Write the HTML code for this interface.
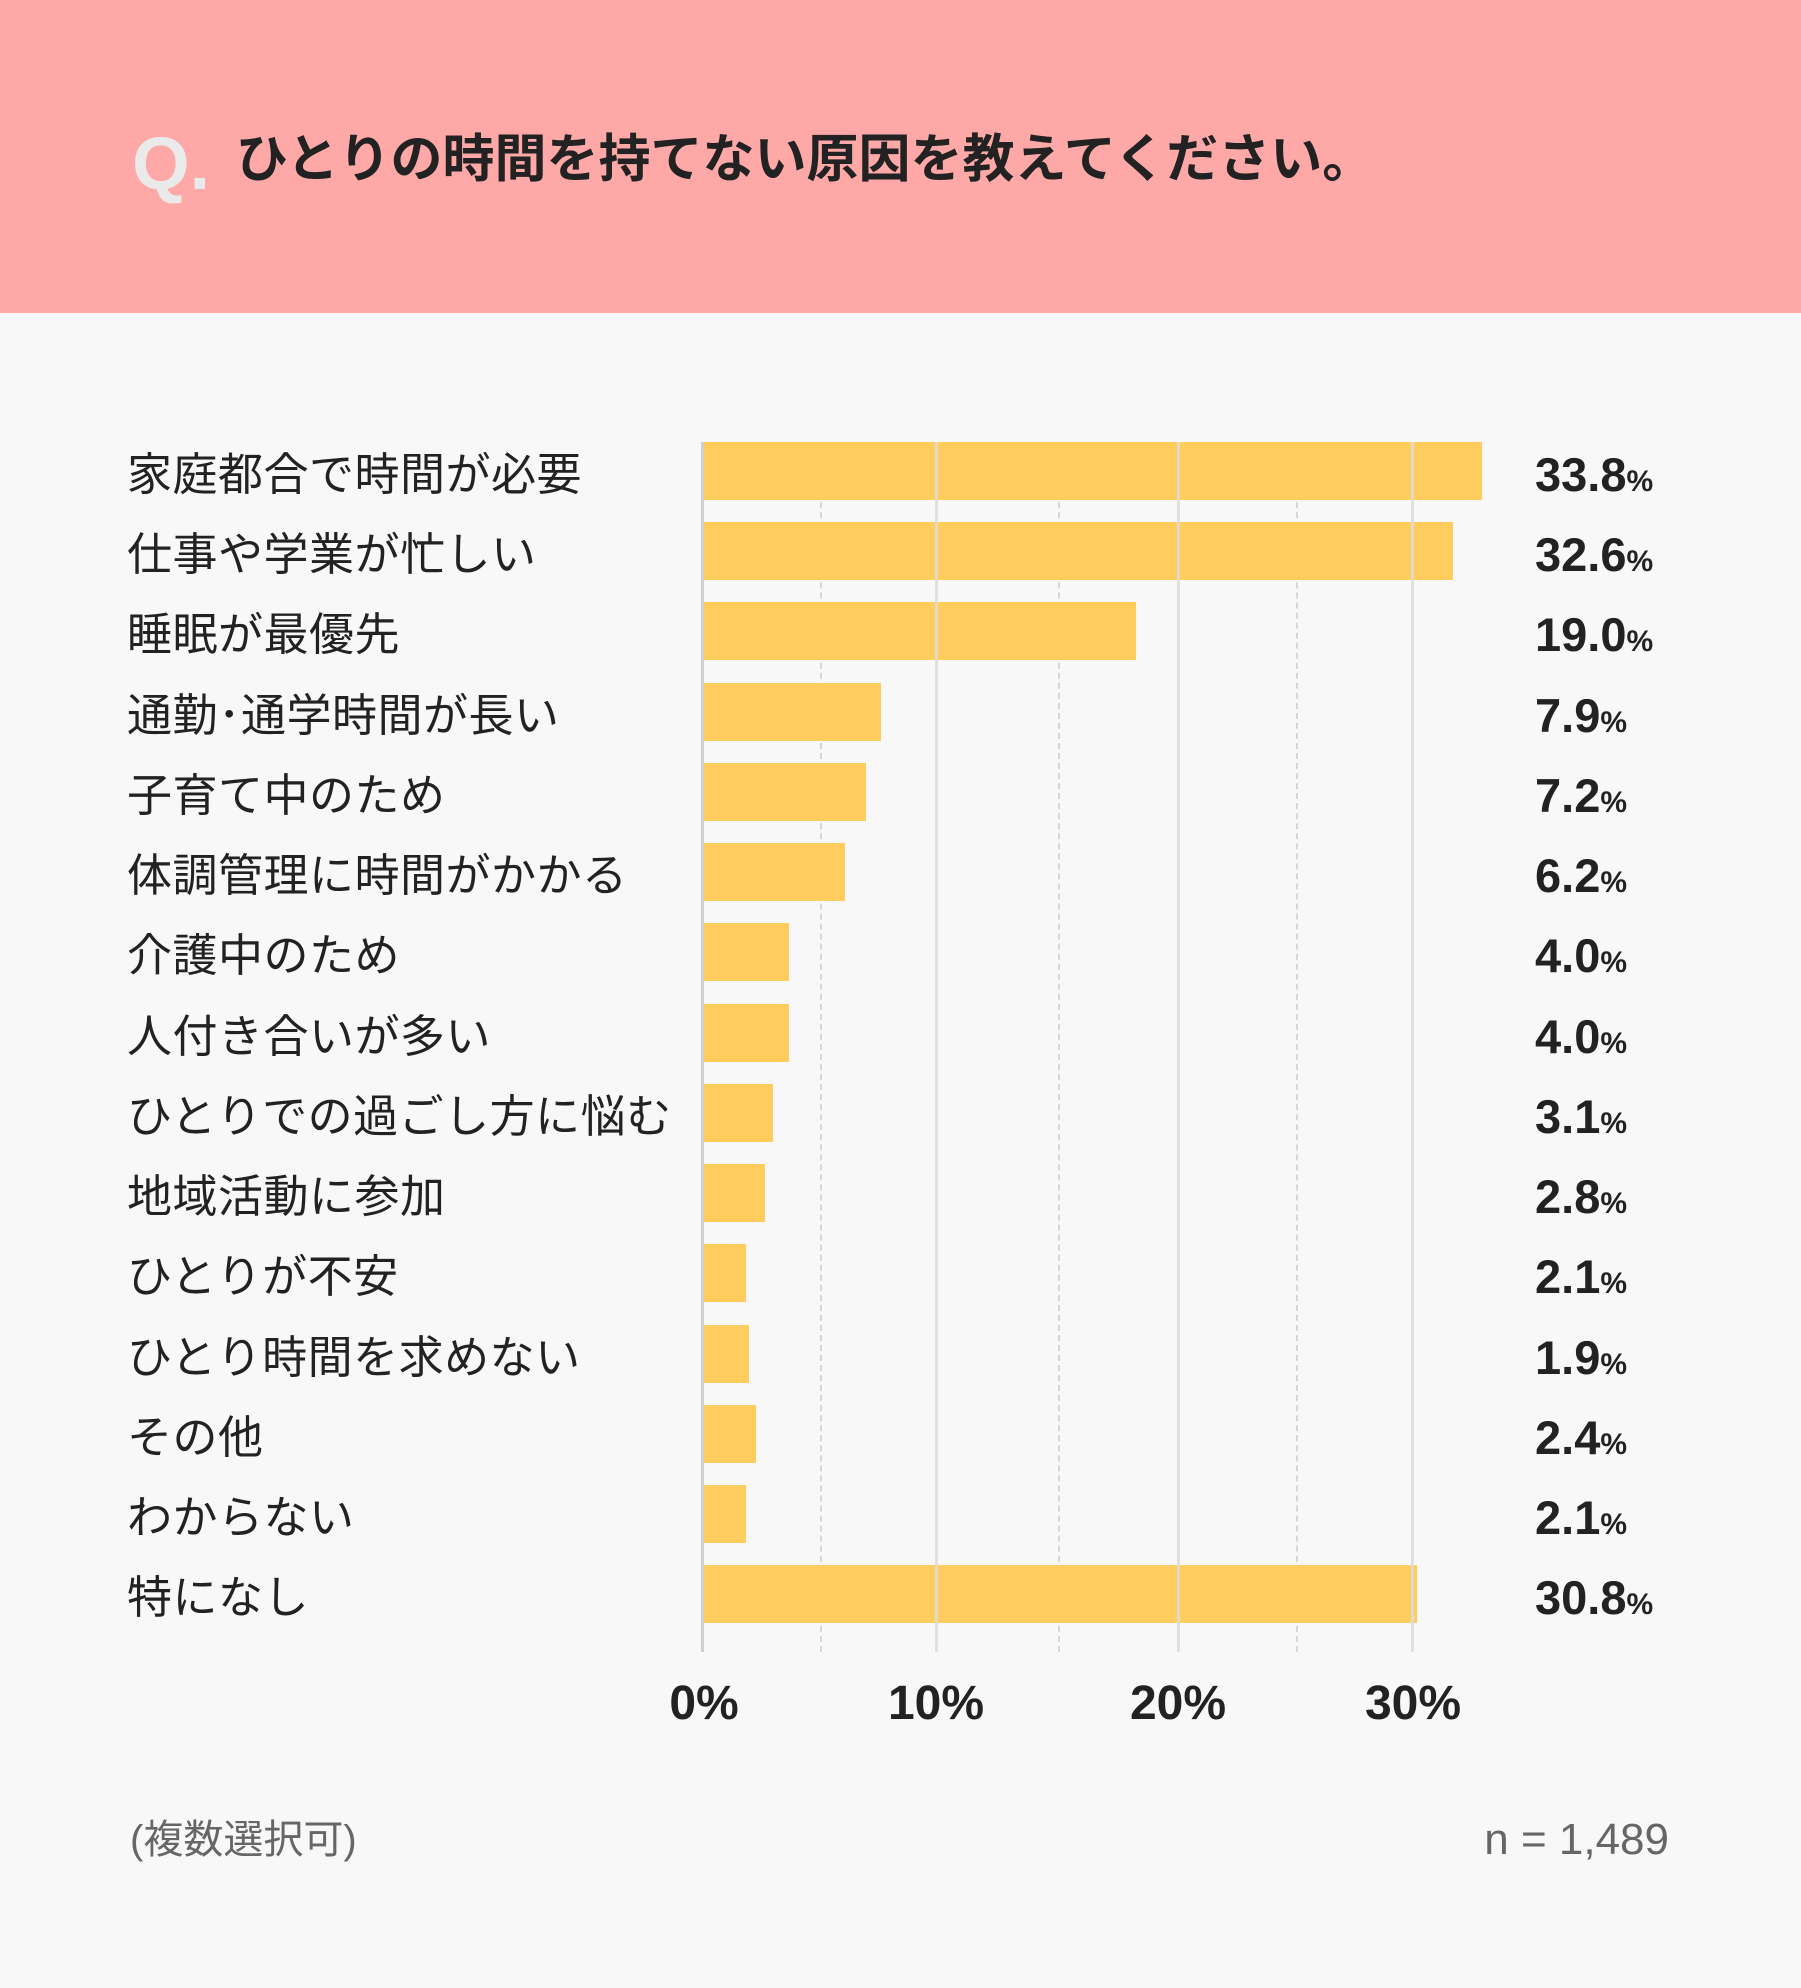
<!DOCTYPE html>
<html><head><meta charset="utf-8"><style>
*{margin:0;padding:0;box-sizing:border-box}
body{width:1801px;height:1988px;background:#f8f8f8;position:relative;overflow:hidden;font-family:"Liberation Sans","Noto Sans CJK JP",sans-serif;color:#222}
.hdr{position:absolute;left:0;top:0;width:1801px;height:313px;background:#ffa8a8}
.q{position:absolute;left:132px;top:124px;font-size:74px;line-height:80px;color:#eaeaea;font-weight:bold}
.title{position:absolute;left:236px;top:128px;font-size:52px;line-height:64px;font-weight:bold;white-space:nowrap}
.lab{position:absolute;left:127px;font-size:45px;line-height:58px;white-space:nowrap;letter-spacing:0.5px;margin-top:4px}
.bar{position:absolute;left:704px;height:58px;background:#ffcd5e}
.val{position:absolute;left:1535px;font-size:47px;line-height:58px;font-weight:bold;white-space:nowrap}
.val span{font-size:30px}
.g{position:absolute;top:442px;height:1210px;width:3px;background:#dcdcdc}
.d{position:absolute;top:442px;height:1210px;width:0;border-left:2px dashed #d6d6d6}
.ax{position:absolute;top:1676px;font-size:48px;font-weight:bold;width:200px;text-align:center;line-height:56px}
</style></head><body>
<div class="hdr"></div>
<div class="q">Q.</div>
<div class="title">ひとりの時間を持てない原因を教えてください。</div>

<div class="d" style="left:820px"></div>
<div class="d" style="left:1058px"></div>
<div class="d" style="left:1296px"></div>

<div class="bar" style="top:442px;width:778px"></div>
<div class="bar" style="top:522px;width:749px"></div>
<div class="bar" style="top:602px;width:432px"></div>
<div class="bar" style="top:683px;width:177px"></div>
<div class="bar" style="top:763px;width:162px"></div>
<div class="bar" style="top:843px;width:141px"></div>
<div class="bar" style="top:923px;width:85px"></div>
<div class="bar" style="top:1004px;width:85px"></div>
<div class="bar" style="top:1084px;width:69px"></div>
<div class="bar" style="top:1164px;width:61px"></div>
<div class="bar" style="top:1244px;width:42px"></div>
<div class="bar" style="top:1325px;width:45px"></div>
<div class="bar" style="top:1405px;width:52px"></div>
<div class="bar" style="top:1485px;width:42px"></div>
<div class="bar" style="top:1565px;width:713px"></div>

<div class="g" style="left:701px;background:#d0d0d0"></div>
<div class="g" style="left:935px;opacity:.85"></div>
<div class="g" style="left:1177px;opacity:.85"></div>
<div class="g" style="left:1411px;opacity:.85"></div>

<div class="lab" style="top:442px">家庭都合で時間が必要</div>
<div class="lab" style="top:522px">仕事や学業が忙しい</div>
<div class="lab" style="top:602px">睡眠が最優先</div>
<div class="lab" style="top:683px">通勤･通学時間が長い</div>
<div class="lab" style="top:763px">子育て中のため</div>
<div class="lab" style="top:843px">体調管理に時間がかかる</div>
<div class="lab" style="top:923px">介護中のため</div>
<div class="lab" style="top:1004px">人付き合いが多い</div>
<div class="lab" style="top:1084px">ひとりでの過ごし方に悩む</div>
<div class="lab" style="top:1164px">地域活動に参加</div>
<div class="lab" style="top:1244px">ひとりが不安</div>
<div class="lab" style="top:1325px">ひとり時間を求めない</div>
<div class="lab" style="top:1405px">その他</div>
<div class="lab" style="top:1485px">わからない</div>
<div class="lab" style="top:1565px">特になし</div>

<div class="val" style="top:446px">33.8<span>%</span></div>
<div class="val" style="top:526px">32.6<span>%</span></div>
<div class="val" style="top:606px">19.0<span>%</span></div>
<div class="val" style="top:687px">7.9<span>%</span></div>
<div class="val" style="top:767px">7.2<span>%</span></div>
<div class="val" style="top:847px">6.2<span>%</span></div>
<div class="val" style="top:927px">4.0<span>%</span></div>
<div class="val" style="top:1008px">4.0<span>%</span></div>
<div class="val" style="top:1088px">3.1<span>%</span></div>
<div class="val" style="top:1168px">2.8<span>%</span></div>
<div class="val" style="top:1248px">2.1<span>%</span></div>
<div class="val" style="top:1329px">1.9<span>%</span></div>
<div class="val" style="top:1409px">2.4<span>%</span></div>
<div class="val" style="top:1489px">2.1<span>%</span></div>
<div class="val" style="top:1569px">30.8<span>%</span></div>

<div class="ax" style="left:604px">0%</div>
<div class="ax" style="left:836px">10%</div>
<div class="ax" style="left:1078px">20%</div>
<div class="ax" style="left:1313px">30%</div>

<div style="position:absolute;left:130px;top:1814px;font-size:40px;line-height:52px;color:#666">(複数選択可)</div>
<div style="position:absolute;right:132px;top:1814px;font-size:44px;line-height:52px;color:#666">n = 1,489</div>
</body></html>
